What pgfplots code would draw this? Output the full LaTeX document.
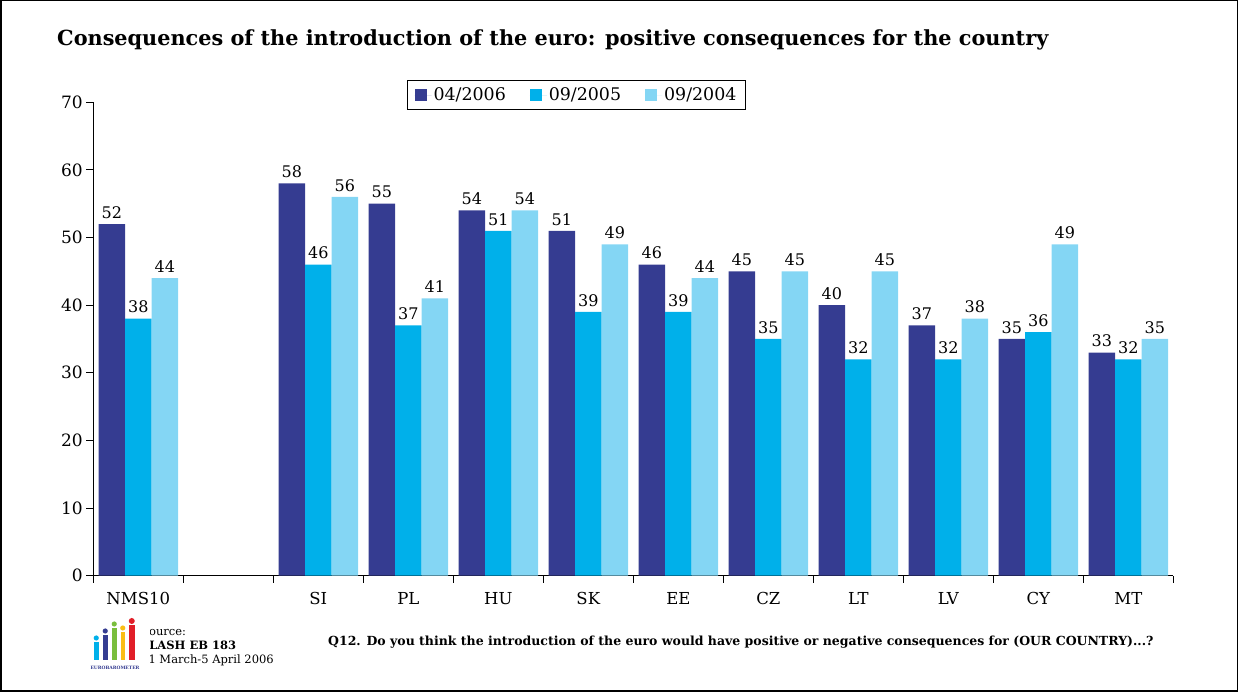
\documentclass[border=0pt]{standalone}
\usepackage{pgfplots}
\usepackage{pgfplotstable}
\pgfplotsset{compat=1.18}
\usepackage{fontspec}
\setmainfont{DejaVu Serif}
\definecolor{cA}{RGB}{53,60,145}
\definecolor{cB}{RGB}{0,176,234}
\definecolor{cC}{RGB}{132,214,244}
\definecolor{lgGreen}{RGB}{122,190,60}
\definecolor{lgYellow}{RGB}{250,190,20}
\definecolor{lgRed}{RGB}{225,30,40}
\pgfplotstableread{
x a b c
0 52 38 44
2 58 46 56
3 55 37 41
4 54 51 54
5 51 39 49
6 46 39 44
7 45 35 45
8 40 32 45
9 37 32 38
10 35 36 49
11 33 32 35
}\data
\begin{document}
\begin{tikzpicture}[x=1pt,y=1pt]
\draw[line width=1.5pt] (0.75,0.75) rectangle (1237.25,691.25);
\node[anchor=base west,inner sep=0pt,font=\fontsize{20.8}{20.8}\selectfont\bfseries] at (57,646) {Consequences of the introduction of the euro: positive consequences for the country};
\begin{axis}[
  at={(93.3pt,116.3pt)}, anchor=south west,
  width=1080pt, height=473.4pt, scale only axis,
  xmin=-0.5, xmax=11.5, ymin=0, ymax=70,
  axis x line*=bottom, axis y line*=left,
  axis line style={-, line width=1pt},
  /pgf/number format/assume math mode=true,
  ytick={0,10,...,70},
  xtick={0,...,11},
  xticklabels={NMS10,,SI,PL,HU,SK,EE,CZ,LT,LV,CY,MT},
  minor xtick={-0.5,0.5,...,11.5},
  major x tick style={draw=none},
  tick align=outside,
  major tick length=7pt, minor tick length=7pt,
  tick style={line width=1pt, black},
  tick label style={font=\fontsize{17}{17}\selectfont},
  x tick label style={yshift=-6pt, font=\fontsize{16.5}{16.5}\selectfont},
  ybar=0pt, bar width=26.5pt,
  nodes near coords,
  nodes near coords style={font=\fontsize{16}{16}\selectfont, black, yshift=2pt},
  legend columns=3,
  legend style={at={(0.4474,1.0154)}, anchor=center, draw=black, line width=0.8pt,
    font=\fontsize{17.4}{17.4}\selectfont, inner xsep=7pt, inner ysep=5pt,
    /tikz/every even column/.append style={column sep=22pt}},
  legend image code/.code={\fill[#1] (0pt,-6pt) rectangle (12pt,6pt); \path (0pt,0pt) -- (17pt,0pt);},
]
\addplot[fill=cA, draw=none] table[x=x,y=a]{\data};
\addplot[fill=cB, draw=none] table[x=x,y=b]{\data};
\addplot[fill=cC, draw=none] table[x=x,y=c]{\data};
\legend{04/2006,09/2005,09/2004}
\end{axis}
% footer
\node[anchor=base west,inner sep=0pt,font=\fontsize{11.5}{11.5}\selectfont] at (141,56) {Source:};
\node[anchor=base west,inner sep=0pt,font=\fontsize{11.5}{11.5}\selectfont\bfseries] at (141,42) {FLASH EB 183};
\node[anchor=base west,inner sep=0pt,font=\fontsize{11.5}{11.5}\selectfont] at (141,28) {31 March-5 April 2006};
\node[anchor=base west,inner sep=0pt,font=\fontsize{12.5}{12.5}\selectfont\bfseries] at (328,46) {Q12. Do you think the introduction of the euro would have positive or negative consequences for (OUR COUNTRY)...?};
% logo
\fill[white] (82,14) rectangle (150,74);
\fill[cB] (94,32) rectangle (98.5,50);
\fill[cB] (96.25,54) circle (2.6);
\fill[cA] (103,32) rectangle (107.5,57);
\fill[cA] (105.25,61) circle (2.6);
\fill[lgGreen] (112,32) rectangle (116.5,64);
\fill[lgGreen] (114.25,68) circle (2.6);
\fill[lgYellow] (120.5,32) rectangle (125,60);
\fill[lgYellow] (122.75,64) circle (2.6);
\fill[lgRed] (129,32) rectangle (134.5,67);
\fill[lgRed] (131.75,71) circle (3);
\node[anchor=base,inner sep=0pt,font=\fontsize{4.5}{4.5}\selectfont\bfseries,text=cA] at (115,22) {EUROBAROMETER};
\end{tikzpicture}
\end{document}
